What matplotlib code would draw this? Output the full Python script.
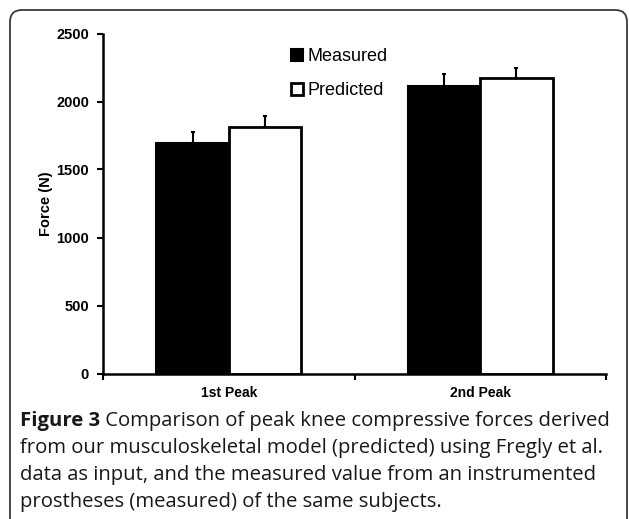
import numpy as np
import matplotlib
matplotlib.use("Agg")
import matplotlib.pyplot as plt
from matplotlib.patches import Patch, FancyBboxPatch

# values
peaks = ["1st Peak", "2nd Peak"]
measured = [1697, 2116]
measured_err = [81, 84]
predicted = [1810, 2171]
predicted_err = [83, 73]
series_names = ["Measured", "Predicted"]
y_ticks = [0, 500, 1000, 1500, 2000, 2500]

caption_bold = "Figure 3"
caption_lines = [
    " Comparison of peak knee compressive forces derived",
    "from our musculoskeletal model (predicted) using Fregly et al.",
    "data as input, and the measured value from an instrumented",
    "prostheses (measured) of the same subjects.",
]

W, H = 629, 519
fig = plt.figure(figsize=(W / 100, H / 100), dpi=100)

# rounded frame around chart and caption
frame = FancyBboxPatch((0.10, -0.3), 6.17, 5.09 + 0.3,
                       boxstyle="round,pad=0,rounding_size=0.12",
                       transform=fig.dpi_scale_trans, fill=False,
                       edgecolor="#3a3a3a", linewidth=1.3)
fig.patches.append(frame)

ax = fig.add_axes([103 / W, (H - 373.5) / H, (606 - 103) / W, (373.5 - 33.5) / H])

x = np.arange(len(peaks))
bw = 0.2875
ax.bar(x - bw / 2, measured, bw, color="black", edgecolor="black", linewidth=1.5, zorder=2)
ax.bar(x + bw / 2, predicted, bw, color="white", edgecolor="black", linewidth=2.0, zorder=2)
ax.errorbar(x - bw / 2, measured, yerr=[np.zeros(len(peaks)), measured_err],
            fmt="none", ecolor="black", elinewidth=1.5, capsize=1.5, capthick=1.5, zorder=1)
ax.errorbar(x + bw / 2, predicted, yerr=[np.zeros(len(peaks)), predicted_err],
            fmt="none", ecolor="black", elinewidth=1.5, capsize=1.5, capthick=1.5, zorder=1)

ax.set_xlim(-0.5, len(peaks) - 0.5)
ax.set_ylim(0, 2500)
ax.set_yticks(y_ticks)
ax.set_yticklabels([str(v) for v in y_ticks], fontsize=10.5, fontweight="bold",
                   family="Liberation Sans")
ax.set_xticks(np.arange(len(peaks) + 1) - 0.5)
ax.set_xticklabels([])
ax.set_xticks(x, minor=True)
ax.set_xticklabels(peaks, minor=True, fontsize=10, fontweight="bold", family="Liberation Sans")
ax.tick_params(axis="x", which="minor", length=0, pad=9)
ax.tick_params(axis="x", which="major", length=4, width=1.5, direction="out")
ax.tick_params(axis="y", length=4, width=1.5, direction="out", pad=6)
for side in ["top", "right"]:
    ax.spines[side].set_visible(False)
for side in ["left", "bottom"]:
    ax.spines[side].set_linewidth(1.8)
ax.set_ylabel("Force (N)", fontsize=10.5, fontweight="bold", family="Liberation Sans", labelpad=2)

handles = [Patch(facecolor="black", edgecolor="black", linewidth=1.5),
           Patch(facecolor="white", edgecolor="black", linewidth=2.0)]
fig.legend(handles, series_names, loc="upper left", bbox_to_anchor=(291 / W, 1 - 48 / H),
           frameon=False, prop={"family": "Liberation Sans", "size": 13},
           handlelength=0.65, handleheight=0.65, handletextpad=0.25, labelspacing=0.95,
           borderaxespad=0, borderpad=0)

# caption with bold lead-in
cap_color = "#1a1718"
cap_font = "Open Sans"
cap_size = 14.6
line_y = [421, 448, 475, 502]
t0 = fig.text(20 / W, 1 - line_y[0] / H, caption_bold, fontsize=cap_size, fontweight="bold",
              family=cap_font, color=cap_color, va="center")
fig.canvas.draw()
bb = t0.get_window_extent()
fig.text(bb.x1 / W, 1 - line_y[0] / H, caption_lines[0], fontsize=cap_size,
         family=cap_font, color=cap_color, va="center")
for yy, line in zip(line_y[1:], caption_lines[1:]):
    fig.text(20 / W, 1 - yy / H, line, fontsize=cap_size, family=cap_font,
             color=cap_color, va="center")

fig.savefig("out.png", dpi=100)
